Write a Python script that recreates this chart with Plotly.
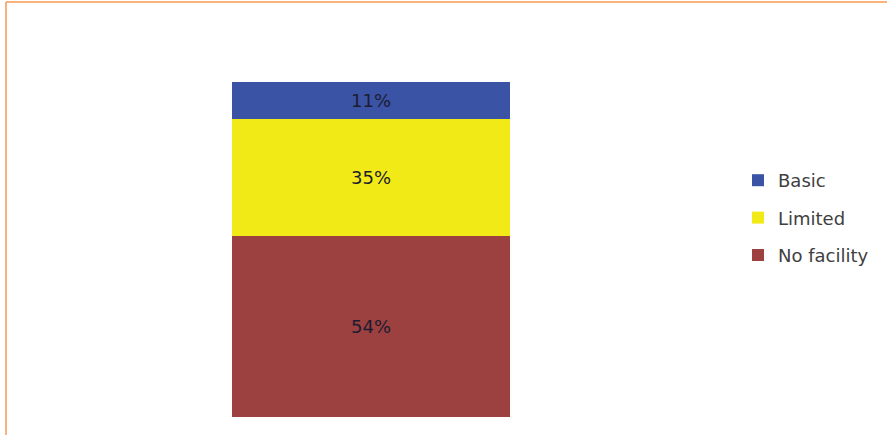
import plotly.graph_objects as go

# Share of facilities by service level (single 100% stacked column)
categories = ["All"]
series_names = ["No facility", "Limited", "Basic"]
series_values = [[54], [35], [11]]
series_colors = ["#9C4040", "#F2EA16", "#3A53A4"]
legend_ranks = [3, 2, 1]

W, H = 887, 435
L, R, T, B = 232, 377, 82, 18
FONT = "DejaVu Sans, Verdana, sans-serif"

fig = go.Figure()
for name, vals, col, rank in zip(series_names, series_values, series_colors, legend_ranks):
    fig.add_trace(go.Bar(
        x=categories, y=vals, name=name, legendgroup=name, legendrank=rank,
        marker=dict(color=col, line=dict(width=0)),
        width=1,
        texttemplate="%{y}%", textposition="inside",
        insidetextanchor="middle",
        textfont=dict(family=FONT, size=18, color="#1c1c30"),
        hoverinfo="skip",
    ))

pw = W - L - R
ph = H - T - B
# orange frame on top and left
fig.add_shape(type="line", xref="paper", yref="paper",
              x0=(6 - L) / pw, x1=(W + 5 - L) / pw,
              y0=1 + (T - 2) / ph, y1=1 + (T - 2) / ph,
              line=dict(color="#F79A55", width=1.5))
fig.add_shape(type="line", xref="paper", yref="paper",
              x0=(6 - L) / pw, x1=(6 - L) / pw,
              y0=1 + (T - 2) / ph, y1=-(B + 5) / ph,
              line=dict(color="#F79A55", width=1.5))

fig.update_layout(
    width=W, height=H,
    margin=dict(l=L, r=R, t=T, b=B),
    barmode="stack",
    plot_bgcolor="white", paper_bgcolor="white",
    showlegend=True,
    legend=dict(
        x=(738 - L) / pw, y=1 - (162 - T) / ph,
        xanchor="left", yanchor="top",
        traceorder="grouped", tracegroupgap=11,
        font=dict(family=FONT, size=18, color="#404040"),
        bgcolor="rgba(0,0,0,0)",
        itemwidth=30,
    ),
    xaxis=dict(visible=False, range=[-0.5, 0.5]),
    yaxis=dict(visible=False, range=[0, 100]),
    uniformtext=dict(mode=False),
)

fig.write_html("out.html")
